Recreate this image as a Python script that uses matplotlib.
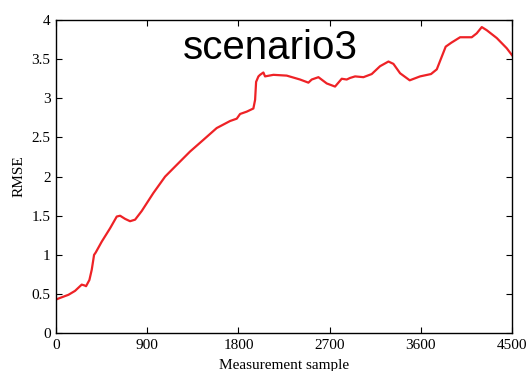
import matplotlib
matplotlib.use('Agg')
import matplotlib.pyplot as plt

# RMSE over measurement samples, scenario 3
sample = [0, 39, 122, 187, 253, 280, 296, 329, 352, 375, 391, 451, 533, 599, 632, 681,
          730, 780, 845, 960, 1076, 1191, 1322, 1454, 1585, 1717, 1783, 1816, 1882, 1947,
          1964, 1974, 1997, 2013, 2046, 2062, 2145, 2276, 2408, 2490, 2523, 2589, 2671,
          2753, 2819, 2868, 2901, 2951, 3033, 3115, 3197, 3280, 3329, 3395, 3490, 3592,
          3700, 3757, 3845, 3900, 3987, 4102, 4151, 4201, 4250, 4349, 4447, 4500]
rmse = [0.43, 0.45, 0.49, 0.54, 0.62, 0.61, 0.60, 0.68, 0.81, 1.00, 1.03, 1.17, 1.34, 1.49, 1.50, 1.46,
        1.43, 1.45, 1.56, 1.79, 2.00, 2.15, 2.32, 2.47, 2.62, 2.71, 2.74, 2.80, 2.83, 2.87,
        2.98, 3.21, 3.28, 3.30, 3.33, 3.28, 3.30, 3.29, 3.24, 3.20, 3.24, 3.27, 3.19,
        3.15, 3.25, 3.24, 3.26, 3.28, 3.27, 3.31, 3.41, 3.47, 3.44, 3.32, 3.23, 3.28,
        3.31, 3.37, 3.66, 3.71, 3.78, 3.78, 3.83, 3.91, 3.87, 3.77, 3.64, 3.55]

xticks = [0, 900, 1800, 2700, 3600, 4500]
yticks = [0, 0.5, 1, 1.5, 2, 2.5, 3, 3.5, 4]
yticklabels = ['0', '0.5', '1', '1.5', '2', '2.5', '3', '3.5', '4']

plt.rcParams['font.family'] = 'Liberation Serif'
plt.rcParams['font.size'] = 11

fig = plt.figure(figsize=(5.29, 3.71), dpi=100)
ax = fig.add_axes([0.106, 0.102, 0.862, 0.844])

ax.plot(sample, rmse, color='#ee2226', linewidth=1.6)

ax.set_xlim(0, 4500)
ax.set_ylim(0, 4)
ax.set_xticks(xticks)
ax.set_yticks(yticks)
ax.set_yticklabels(yticklabels)
ax.tick_params(direction='in', length=4, width=0.8, top=True, right=True, pad=4)
for s in ax.spines.values():
    s.set_linewidth(1.0)

ax.set_xlabel('Measurement sample', labelpad=5)
ax.set_ylabel('RMSE', labelpad=4)

ax.text(0.47, 0.91, 'scenario3', transform=ax.transAxes, ha='center', va='center',
        fontsize=29, family='Liberation Sans')

fig.savefig('out.png', dpi=100)
